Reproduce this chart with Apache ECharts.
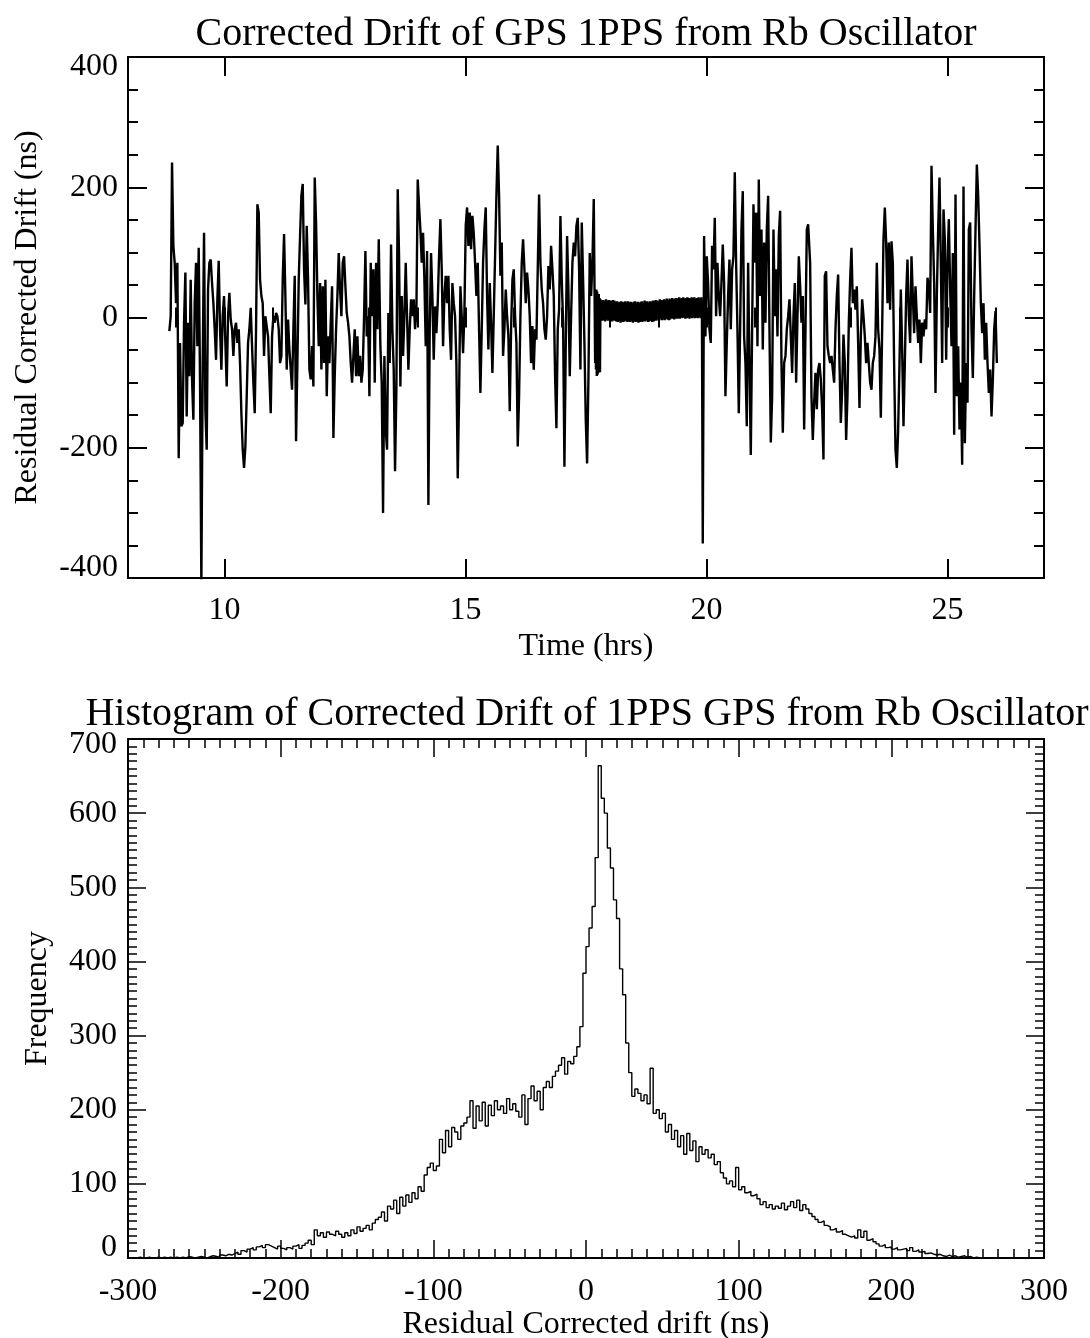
<!DOCTYPE html>
<html><head><meta charset="utf-8">
<script src="https://cdn.jsdelivr.net/npm/echarts@6/dist/echarts.min.js"></script>
<style>html,body{margin:0;padding:0;background:#fff}#c{width:1090px;height:1338px}</style>
</head><body><div id="c"></div>
<script>
const FONT = "'Liberation Serif','Times New Roman',serif";

// ---- Top chart: residual corrected drift vs time (hrs) ----
const timeMajorTicks = [10, 15, 20, 25];
const driftA_span = [8.858, 13.201];
const driftA = [-21,2,238,110,84,22,84,-216,-39,-167,
-162,-8,69,-152,-8,-90,58,-95,-157,22,
84,-44,107,-100,-410,-70,130,-142,-203,43,
84,89,53,22,-18,-65,28,87,-18,-80,
2,33,-39,-106,2,38,-3,-18,-59,-18,
-8,-39,-18,-70,-147,-203,-231,-198,-121,-39,
-18,15,-44,-100,-147,-18,174,161,58,33,
22,-59,2,2,-29,-90,-147,-29,2,-8,
7,2,-18,-70,-59,58,128,33,-80,-3,
-49,-80,-111,-18,64,-190,-70,58,125,187,
205,74,20,141,58,-80,-95,-44,-106,215,
146,33,-44,53,-80,48,-70,58,-121,-29,
-70,-8,48,-185,-90,-18,33,99,43,2,
84,94,48,7,-8,-29,-70,-100,-59,-18,
-90,-29,-90,-59,-100,-80,2,102,-29,2,
-121,84,2,74,-100,84,-18,120];
const driftB_span = [13.235, 17.661];
const driftB = [-44,-100,-300,-59,-172,-203,7,-70,112,-18,
-80,-236,-111,197,94,-106,33,-59,2,84,
2,-80,-18,28,2,28,-18,7,212,171,
135,84,130,58,-44,102,-288,-18,99,33,
-65,17,-24,22,94,151,74,-44,33,64,
22,64,-18,-65,53,22,2,-70,-247,-121,
48,2,-55,7,141,169,110,161,105,156,
130,84,33,84,-18,-116,-18,84,135,169,
33,-49,53,-8,-85,2,94,187,264,187,
64,115,-59,-18,43,2,-29,-144,-18,58,
74,2,-39,-198,-121,2,84,120,74,22,
69,43,2,-70,-13,-80,-18,-34,74,189,
84,43,22,-18,-34,2,79,43,110,74,
33,-90,-170,-18,12,156,58,-8,-229,-44,
125,43,-90,2,84,115,94,141,153,74,
-80,146,58,-39,-157,-224,-95,99,33,84,
182];
const driftC_span = [17.69, 17.79];
const driftC = [-70,38,-80,43,-90,40,-88,35,-85,36,-82,30,-84];
const driftBand_span = [17.80, 19.905];
const driftBand = [
28,-3,26,-5,27,-4,25,-6,28,-3,26,-5,27,-4,26,-5,25,-6,27,-4,
26,-5,24,-6,25,-7,23,-5,24,-8,25,-6,24,-7,23,-6,25,-5,24,-7,
25,-6,23,-7,24,-5,22,-8,24,-6,25,-7,23,-6,24,-8,22,-7,24,-6,
25,-7,23,-5,26,-6,24,-4,25,-7,23,-6,25,-5,24,-7,26,-6,25,-5,
27,-5,26,-3,25,-4,28,-2,27,-4,26,-3,28,-4,27,-2,29,-3,27,-4,
29,-3,28,-1,30,-2,28,-3,29,-1,30,-2,29,-1,31,-2,29,0,30,-1,
31,0,29,-2,30,-1,31,0,30,-2,29,0,31,-1,30,0,31,-1,29,0,
30,-1,31,0,29,-1,31,0];
const driftE_span = [19.922, 22.108];
const driftE = [-347,125,-29,94,53,-18,-39,110,74,153,
2,84,33,2,53,112,53,-121,-39,33,
89,-18,74,94,223,84,-18,-147,-18,135,
194,-29,-70,-167,84,-70,-211,-18,174,84,
161,-44,212,33,135,-49,115,-8,135,187,
-18,-192,-121,135,2,74,-29,125,164,-70,
-177,-70,-59,-18,2,28,-29,-85,2,53,
-100,2,94,48,-8,33,-172,-18,135,143];
const driftF_span = [22.149, 26.022];
const driftF = [84,-121,-188,-131,-85,-141,-80,-70,-95,-141,
-218,64,71,-44,-59,-70,-59,-80,-100,-18,
33,66,-70,-162,-111,-26,-70,-188,-121,-8,
58,107,22,43,12,48,-39,-139,-29,28,
2,-29,-70,-39,-70,-100,-111,-70,-59,-29,
84,-18,-49,-154,-18,120,169,115,22,115,
12,117,84,-75,-203,-231,-172,-70,43,-49,
-167,-70,33,89,2,-39,94,33,-24,48,
2,-39,-3,-70,-8,-29,-3,-18,61,48,
7,233,135,53,-116,33,135,215,84,-70,
166,120,-65,84,151,43,-44,99,-180,189,
-121,-44,-172,-100,-226,201,-193,-70,-131,135,
146,-18,-93,33,135,235,187,110,22,-24,
22,-65,-8,-70,-116,-80,-152,-95,-18,10,
-70];

// ---- Bottom chart: histogram (bin width 2 ns, first bin edge -300 ns) ----
const histStart = -300;
const histBinWidth = 2;
const histCounts = [0,0,
0,1,0,0,1, 0,0,1,0,1, 0,1,0,1,0, 1,0,2,1,0, 1,2,1,0,2,
3,2,1,4,3, 5,4,6,8,5, 10,8,12,14,11, 15,17,14,18,16, 14,12,16,13,11,
14,12,16,18,13, 17,20,24,18,38, 30,34,28,35,32, 30,36,32,28,34, 30,38,33,42,36,
40,44,38,47,52, 55,62,50,70,66, 78,60,82,70,85, 75,88,80,96,90, 112,122,128,118,124,
160,142,172,150,176, 170,160,178,182,190, 212,175,205,185,210, 178,206,192,212,200, 205,195,215,200,208,
198,190,220,180,215, 232,212,225,200,230, 238,230,245,252,260, 270,248,265,262,272, 285,312,384,420,445,
474,540,664,620,600, 553,526,483,458,390, 355,290,250,218,228, 222,212,220,208,256, 195,200,188,195,170,
180,160,172,150,165, 140,168,145,158,130, 150,140,146,135,140, 126,130,115,108,100, 104,96,122,92,96,
88,90,84,86,80, 72,76,68,72,66, 70,67,74,65,70, 76,68,78,64,72, 66,60,56,52,48,
50,44,42,38,40, 35,37,32,30,28, 30,27,38,28,36, 24,26,22,19,16, 18,14,15,12,14,
11,12,13,10,14, 9,11,8,9,6, 7,5,4,5,3, 2,4,2,3,1, 2,3,1,2,0, 1,0,0,0,0];

// ---- build series data ----
function segPoints(span, vals) {
  const n = vals.length, dt = (span[1] - span[0]) / (n - 1);
  return vals.map((v, i) => [span[0] + i * dt, v]);
}
const driftData = [].concat(
  segPoints(driftA_span, driftA), segPoints(driftB_span, driftB),
  segPoints(driftC_span, driftC), segPoints(driftBand_span, driftBand),
  segPoints(driftE_span, driftE), segPoints(driftF_span, driftF));
const histData = histCounts.map((c, i) => [histStart + i * histBinWidth, c]);
histData.push([histStart + histCounts.length * histBinWidth, histCounts[histCounts.length - 1]]);

const black = '#000';
const labelStyle = { color: black, fontFamily: FONT, fontSize: 32 };
const nameStyle = { color: black, fontFamily: FONT, fontSize: 32 };
function lineStyle(w) { return { show: true, onZero: false, lineStyle: { color: black, width: w } }; }

const chart = echarts.init(document.getElementById('c'), null, { renderer: 'canvas' });
chart.setOption({
  backgroundColor: '#fff',
  animation: false,
  title: [
    { text: 'Corrected Drift of GPS 1PPS from Rb Oscillator', left: 581, textAlign: 'center', top: 9,
      textStyle: { fontFamily: FONT, fontSize: 40, fontWeight: 'normal', color: black } },
    { text: 'Histogram of Corrected Drift of 1PPS GPS from Rb Oscillator', left: 582, textAlign: 'center', top: 689,
      textStyle: { fontFamily: FONT, fontSize: 40, fontWeight: 'normal', color: black } }
  ],
  grid: [
    { left: 128, top: 57, width: 916, height: 521, containLabel: false, outerBoundsMode: 'none' },
    { left: 128, top: 739, width: 916, height: 519, containLabel: false, outerBoundsMode: 'none' }
  ],
  xAxis: [
    { gridIndex: 0, type: 'value', position: 'bottom', min: 8, max: 27,
      axisLine: lineStyle(2),
      axisTick: { show: true, inside: true, length: 19, customValues: timeMajorTicks, lineStyle: { color: black, width: 2 } },
      axisLabel: { show: true, customValues: timeMajorTicks, margin: 17, ...labelStyle },
      splitLine: { show: false },
      name: 'Time (hrs)', nameLocation: 'middle', nameGap: 53, nameTextStyle: nameStyle },
    { gridIndex: 0, type: 'value', position: 'bottom', min: 8, max: 27, interval: 1,
      axisLine: { show: false },
      axisTick: { show: true, inside: true, length: 10, lineStyle: { color: black, width: 2 } },
      axisLabel: { show: false }, splitLine: { show: false } },
    { gridIndex: 0, type: 'value', position: 'top', min: 8, max: 27,
      axisLine: lineStyle(2),
      axisTick: { show: true, inside: true, length: 19, customValues: timeMajorTicks, lineStyle: { color: black, width: 2 } },
      axisLabel: { show: false }, splitLine: { show: false } },
    { gridIndex: 0, type: 'value', position: 'top', min: 8, max: 27, interval: 1,
      axisLine: { show: false },
      axisTick: { show: true, inside: true, length: 10, lineStyle: { color: black, width: 2 } },
      axisLabel: { show: false }, splitLine: { show: false } },
    { gridIndex: 1, type: 'value', position: 'bottom', min: -300, max: 300, interval: 100,
      axisLine: lineStyle(2),
      axisTick: { show: true, inside: true, length: 18, lineStyle: { color: black, width: 1.5 } },
      minorTick: { show: true, splitNumber: 10, length: 9, lineStyle: { color: black, width: 1.5 } },
      axisLabel: { show: true, margin: 18, ...labelStyle },
      splitLine: { show: false }, minorSplitLine: { show: false },
      name: 'Residual Corrected drift (ns)', nameLocation: 'middle', nameGap: 51, nameTextStyle: nameStyle },
    { gridIndex: 1, type: 'value', position: 'top', min: -300, max: 300, interval: 100,
      axisLine: lineStyle(2),
      axisTick: { show: true, inside: true, length: 18, lineStyle: { color: black, width: 1.5 } },
      minorTick: { show: true, splitNumber: 10, length: 9, lineStyle: { color: black, width: 1.5 } },
      axisLabel: { show: false }, splitLine: { show: false } }
  ],
  yAxis: [
    { gridIndex: 0, type: 'value', position: 'left', min: -400, max: 400, interval: 200,
      axisLine: lineStyle(2),
      axisTick: { show: true, inside: true, length: 19, lineStyle: { color: black, width: 2 } },
      minorTick: { show: true, splitNumber: 4, length: 10, lineStyle: { color: black, width: 2 } },
      axisLabel: { show: true, margin: 10, lineHeight: 20, verticalAlignMinLabel: 'bottom', verticalAlignMaxLabel: 'top', ...labelStyle },
      splitLine: { show: false }, minorSplitLine: { show: false },
      name: 'Residual Corrected Drift (ns)', nameLocation: 'middle', nameGap: 84, nameTextStyle: nameStyle },
    { gridIndex: 0, type: 'value', position: 'right', min: -400, max: 400, interval: 200,
      axisLine: lineStyle(2),
      axisTick: { show: true, inside: true, length: 19, lineStyle: { color: black, width: 2 } },
      minorTick: { show: true, splitNumber: 4, length: 10, lineStyle: { color: black, width: 2 } },
      axisLabel: { show: false }, splitLine: { show: false } },
    { gridIndex: 1, type: 'value', position: 'left', min: 0, max: 700, interval: 100,
      axisLine: lineStyle(2),
      axisTick: { show: true, inside: true, length: 18, lineStyle: { color: black, width: 1.5 } },
      minorTick: { show: true, splitNumber: 10, length: 9, lineStyle: { color: black, width: 1.5 } },
      axisLabel: { show: true, margin: 11, ...labelStyle,
        formatter: function (v) { return v === 0 ? '{lo|0}' : (v === 700 ? '{hi|700}' : String(v)); },
        rich: {
          lo: { padding: [0, 0, 20, 0], color: black, fontFamily: FONT, fontSize: 32 },
          hi: { padding: [12, 0, 0, 0], color: black, fontFamily: FONT, fontSize: 32 }
        } },
      splitLine: { show: false }, minorSplitLine: { show: false },
      name: 'Frequency', nameLocation: 'middle', nameGap: 74, nameTextStyle: nameStyle },
    { gridIndex: 1, type: 'value', position: 'right', min: 0, max: 700, interval: 100,
      axisLine: lineStyle(2),
      axisTick: { show: true, inside: true, length: 18, lineStyle: { color: black, width: 1.5 } },
      minorTick: { show: true, splitNumber: 10, length: 9, lineStyle: { color: black, width: 1.5 } },
      axisLabel: { show: false }, splitLine: { show: false } }
  ],
  series: [
    { type: 'line', xAxisIndex: 0, yAxisIndex: 0, data: driftData, showSymbol: false, symbol: 'none',
      clip: true, sampling: null, silent: true,
      lineStyle: { color: black, width: 2.4 } },
    { type: 'line', xAxisIndex: 4, yAxisIndex: 2, data: histData, step: 'end', showSymbol: false, symbol: 'none',
      clip: true, silent: true,
      lineStyle: { color: black, width: 1.4 } }
  ]
});
</script>
</body></html>
